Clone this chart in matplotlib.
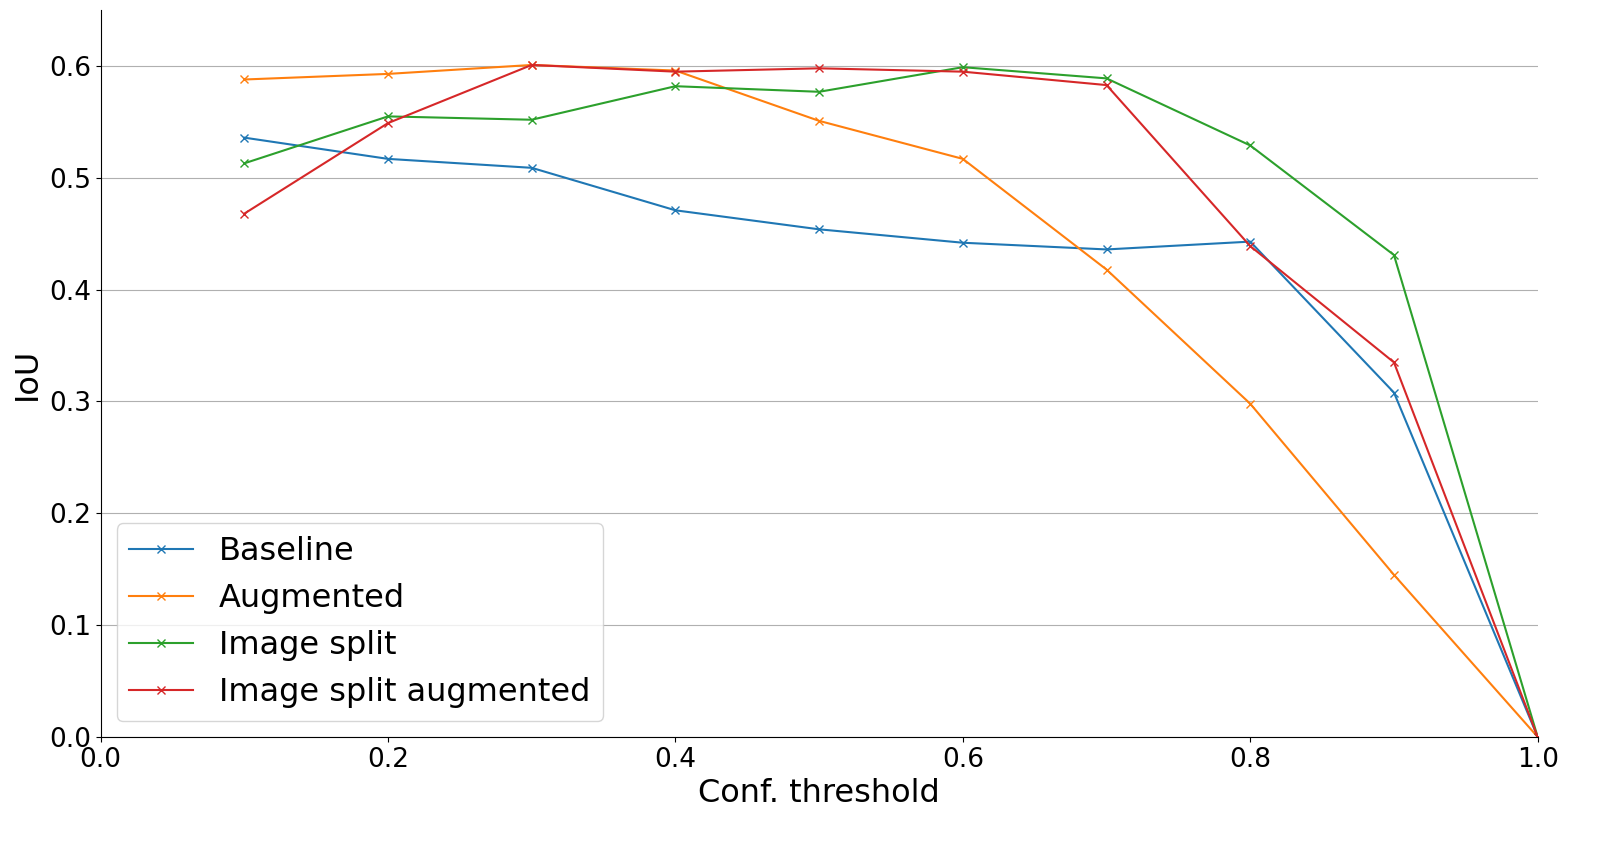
import matplotlib
matplotlib.use("Agg")
import matplotlib.pyplot as plt

thresholds = [0.1, 0.2, 0.3, 0.4, 0.5, 0.6, 0.7, 0.8, 0.9, 1.0]
baseline = [0.536, 0.517, 0.509, 0.471, 0.454, 0.442, 0.436, 0.443, 0.308, 0.0]
augmented = [0.588, 0.593, 0.601, 0.596, 0.551, 0.517, 0.418, 0.298, 0.145, 0.0]
image_split = [0.513, 0.555, 0.552, 0.582, 0.577, 0.599, 0.589, 0.529, 0.431, 0.0]
image_split_aug = [0.468, 0.549, 0.601, 0.595, 0.598, 0.595, 0.583, 0.439, 0.335, 0.0]

fig, ax = plt.subplots(figsize=(16.22, 8.48), dpi=100)
fig.subplots_adjust(left=0.062, right=0.948, top=0.988, bottom=0.131)

ax.plot(thresholds, baseline, marker="x", label="Baseline")
ax.plot(thresholds, augmented, marker="x", label="Augmented")
ax.plot(thresholds, image_split, marker="x", label="Image split")
ax.plot(thresholds, image_split_aug, marker="x", label="Image split augmented")

ax.set_xlim(0, 1)
ax.set_ylim(0, 0.65)
ax.yaxis.grid(True, color="#b0b0b0")
ax.set_axisbelow(True)
ax.spines["top"].set_visible(False)
ax.spines["right"].set_visible(False)
ax.tick_params(labelsize=19)
ax.set_xlabel("Conf. threshold", fontsize=23)
ax.set_ylabel("IoU", fontsize=23)
ax.legend(fontsize=23, loc="lower left")

fig.savefig("out.png", dpi=100)
